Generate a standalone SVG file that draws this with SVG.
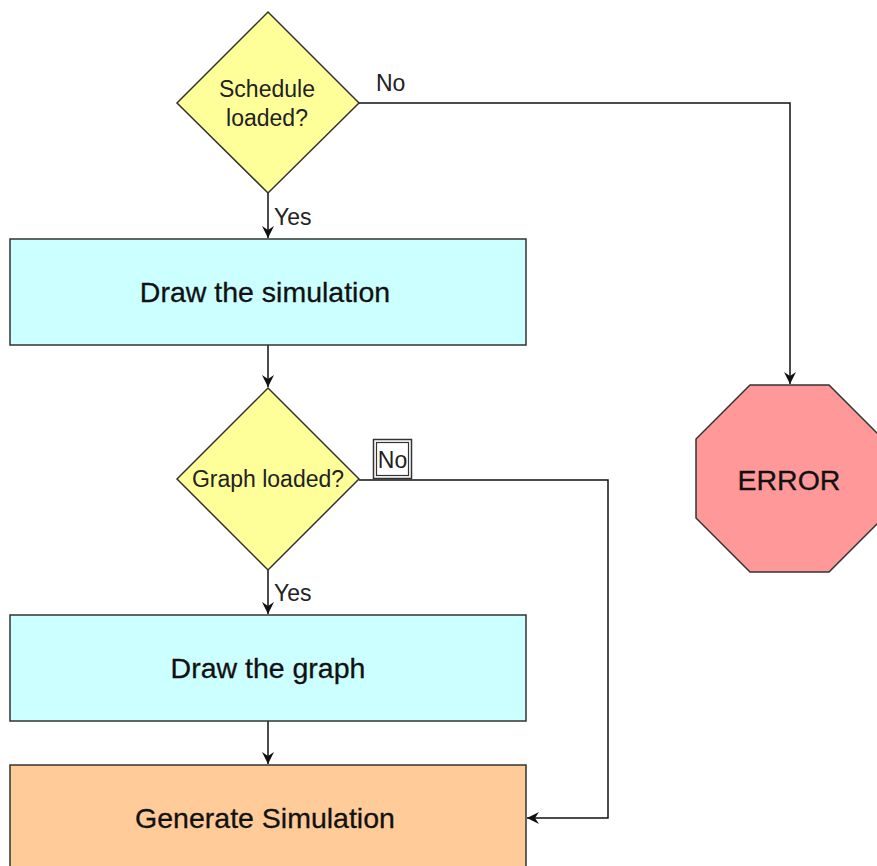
<svg xmlns="http://www.w3.org/2000/svg" width="877" height="866" viewBox="0 0 877 866">
  <style>
    .shape { stroke: #333333; stroke-width: 1.5; }
    .decision { fill: #ffff99; }
    .process { fill: #ccffff; }
    .final { fill: #ffcc99; }
    .stop { fill: #ff9999; }
    .edge { fill: none; stroke: #111111; stroke-width: 1.5; marker-end: url(#arrow); }
    text { font-family: "Liberation Sans", Arial, sans-serif; fill: #111111; }
    .big { font-size: 28.5px; text-anchor: middle; stroke: #111111; stroke-width: 0.3; }
    .small { font-size: 23px; fill: #222222; }
    .mid { text-anchor: middle; }
  </style>
  <defs>
    <marker id="arrow" viewBox="0 0 12 12" refX="12" refY="6" markerWidth="12" markerHeight="12" markerUnits="userSpaceOnUse" orient="auto">
      <path d="M0,0 L12,6 L0,12 L4,6 Z" fill="#111111"/>
    </marker>
  </defs>
  <rect width="877" height="866" fill="#ffffff"/>

  <!-- connectors -->
  <g id="connectors">
    <path class="edge" d="M268,193 V238"/>
    <path class="edge" d="M359,103 H790 V384"/>
    <path class="edge" d="M268,345 V387"/>
    <path class="edge" d="M268,570 V614"/>
    <path class="edge" d="M359,480 H608 V818 H527"/>
    <path class="edge" d="M268,721 V764"/>
    <text class="small" x="274" y="225">Yes</text>
    <text class="small" x="376" y="91">No</text>
    <text class="small" x="274" y="601">Yes</text>
    <g id="no-label-2">
      <rect x="373.5" y="439.5" width="38" height="39" fill="#ffffff" stroke="#333333" stroke-width="1.5"/>
      <rect x="376.5" y="442.5" width="32" height="33" fill="#ffffff" stroke="#333333" stroke-width="1.2"/>
      <text class="small mid" x="392.5" y="468">No</text>
    </g>
  </g>

  <g id="schedule-loaded">
    <polygon class="shape decision" points="268,12 359,103 268,193 177,103"/>
    <text class="small mid" x="267" y="97">Schedule</text>
    <text class="small mid" x="267" y="126">loaded?</text>
  </g>

  <g id="draw-simulation">
    <rect class="shape process" x="10" y="239" width="516" height="106"/>
    <text class="big" x="265" y="302">Draw the simulation</text>
  </g>

  <g id="graph-loaded">
    <polygon class="shape decision" points="268,388 359,479 268,570 177,479"/>
    <text class="small mid" x="268" y="487">Graph loaded?</text>
  </g>

  <g id="draw-graph">
    <rect class="shape process" x="10" y="615" width="516" height="106"/>
    <text class="big" x="268" y="678">Draw the graph</text>
  </g>

  <g id="generate-simulation">
    <rect class="shape final" x="10" y="765" width="516" height="110"/>
    <text class="big" x="265" y="828">Generate Simulation</text>
  </g>

  <g id="error">
    <polygon class="shape stop" points="750,385 829,385 883,439 883,518 829,572 750,572 696,518 696,439"/>
    <text class="big" x="789" y="490">ERROR</text>
  </g>
</svg>
